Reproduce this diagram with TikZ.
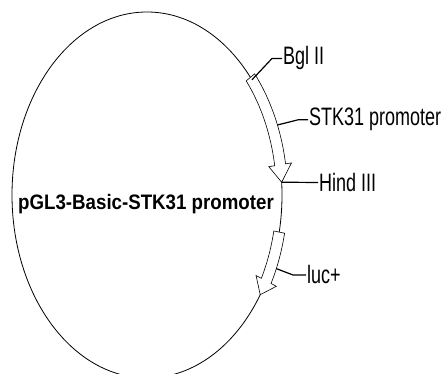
\documentclass[tikz,border=0pt]{standalone}
\usepackage{fontspec}
\setmainfont{Liberation Sans}
\usetikzlibrary{calc}
\tikzset{
	featarrow/.style={draw, fill=white, line width=0.6pt},
	leader/.style={draw, line width=1.2pt},
	site/.style={anchor=base west, inner sep=1pt, font=\fontsize{18}{20}\selectfont},
	plasmidname/.style={anchor=base west, inner sep=0pt, font=\fontsize{18.7}{20}\selectfont\bfseries}
}
\newcommand{\stretchy}[2]{\scalebox{1}[#1]{#2}}

\begin{document}
\begin{tikzpicture}[x=1pt, y=1pt]
	\clip (0,0) rectangle (444,374);
	\coordinate (o) at (147,179);
	\draw[line width=0.8pt] (o) ellipse [x radius=135pt, y radius=183pt];
	\draw[featarrow] ($(o)+(40:140.5pt and 188.5pt)$) arc[start angle=40, end angle=9.5, x radius=140.5pt, y radius=188.5pt] -- ($(o)+(9.5:146.5pt and 194.5pt)$) -- ($(o)+(4:135pt and 183pt)$) -- ($(o)+(9.5:123.5pt and 171.5pt)$) -- ($(o)+(9.5:129.5pt and 177.5pt)$) arc[start angle=9.5, end angle=40, x radius=129.5pt, y radius=177.5pt] -- cycle;
	\draw[featarrow] ($(o)+(-11.7:140.5pt and 188.5pt)$) arc[start angle=-11.7, end angle=-28, x radius=140.5pt, y radius=188.5pt] -- ($(o)+(-28:146.5pt and 194.5pt)$) -- ($(o)+(-33:135pt and 183pt)$) -- ($(o)+(-28:123.5pt and 171.5pt)$) -- ($(o)+(-28:129.5pt and 177.5pt)$) arc[start angle=-28, end angle=-11.7, x radius=129.5pt, y radius=177.5pt] -- cycle;
	\coordinate (bglpt) at ($(o)+(39:135pt and 183pt)$);
	\coordinate (stkpt) at ($(o)+(21.8:140.5pt and 188.5pt)$);
	\coordinate (hindpt) at ($(o)+(4:135pt and 183pt)$);
	\coordinate (lucpt) at ($(o)+(-23:140.5pt and 188.5pt)$);
	\node[site] (bgl) at (282,309) {\stretchy{1.4}{Bgl II}};
	\node[site] (stk) at (308,248) {\stretchy{1.4}{STK31 promoter}};
	\node[site] (hind) at (318,182.5) {\stretchy{1.4}{Hind III}};
	\node[site] (luc) at (306,90) {\stretchy{1.4}{luc+}};
	\node[plasmidname] (name) at (18,164) {\stretchy{1.12}{pGL3-Basic-STK31 promoter}};
	\draw[leader] (bglpt) -- ($(bgl.west)+(-10,0)$) -- (bgl.west);
	\draw[leader] (stkpt) -- ($(stk.west)+(-10,0)$) -- (stk.west);
	\draw[leader] (hindpt) -- (hind.west);
	\draw[leader] (lucpt) -- ($(luc.west)+(-13,0)$) -- (luc.west);
\end{tikzpicture}
\end{document}
